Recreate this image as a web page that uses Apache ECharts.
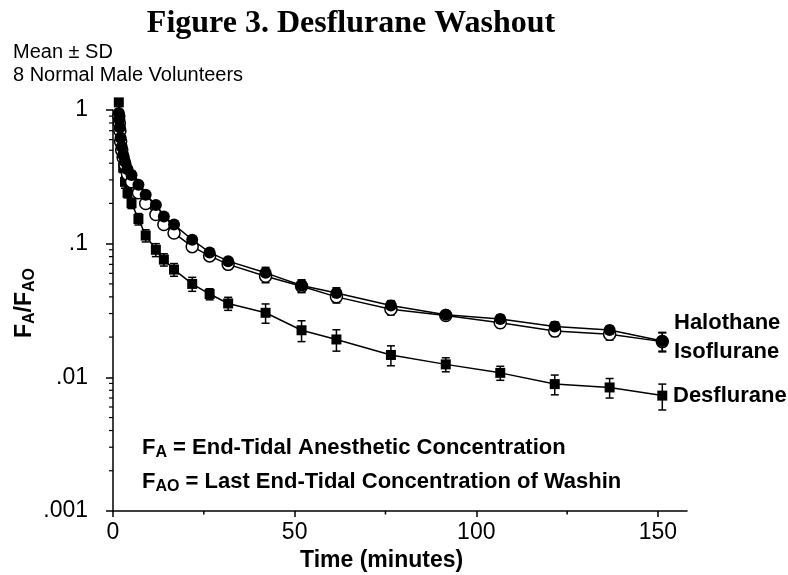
<!DOCTYPE html>
<html>
<head>
<meta charset="utf-8">
<script src="https://cdn.jsdelivr.net/npm/echarts@6/dist/echarts.min.js"></script>
<style>
  html, body { margin: 0; padding: 0; background: #fff; }
  #chart { width: 788px; height: 575px; }
</style>
</head>
<body>
<div id="chart"></div>
<script>
// sample times (minutes)
var times = [1.6, 1.75, 1.9, 2.1, 2.4, 2.8, 3.3, 4.0, 5.1, 7.0, 9.0, 11.8, 14.0, 16.8, 21.8, 26.6, 31.7,
             42.0, 51.9, 61.5, 76.5, 91.6, 106.6, 121.6, 136.7, 151.2];

// FA/FA0 means
var halothane  = [0.95, 0.85, 0.74, 0.62, 0.53, 0.46, 0.41, 0.36, 0.327, 0.276, 0.232, 0.195, 0.160, 0.139, 0.107, 0.086, 0.074,
                  0.0605, 0.0487, 0.0428, 0.0345, 0.0294, 0.0273, 0.0240, 0.0226, 0.0187];
var isoflurane = [0.90, 0.80, 0.70, 0.58, 0.50, 0.44, 0.39, 0.33, 0.290, 0.240, 0.200, 0.165, 0.139, 0.120, 0.095, 0.081, 0.070,
                  0.057, 0.048, 0.040, 0.0323, 0.0290, 0.0256, 0.0222, 0.0210, 0.0185];
var desflurane = [1.14, 0.85, 0.71, 0.58, 0.48, 0.37, 0.29, 0.24, 0.201, 0.153, 0.115, 0.090, 0.076, 0.064, 0.050, 0.042, 0.0357,
                  0.0304, 0.0225, 0.0192, 0.0147, 0.0125, 0.0108, 0.0089, 0.0084, 0.0073];

// standard deviations
var halSD = [0.05, 0.04, 0.04, 0.03, 0.03, 0.025, 0.02, 0.02, 0.02, 0.015, 0.012, 0.01, 0.008, 0.007, 0.006, 0.005, 0.004,
             0.006, 0.005, 0.004, 0.003, 0.0015, 0.002, 0.002, 0.0015, 0.003];
var isoSD = [0.05, 0.04, 0.04, 0.03, 0.03, 0.025, 0.02, 0.02, 0.02, 0.015, 0.012, 0.01, 0.008, 0.007, 0.007, 0.005, 0.005,
             0.006, 0.005, 0.004, 0.003, 0.0015, 0.002, 0.002, 0.002, 0.003];
var desSD = [0.05, 0.05, 0.04, 0.04, 0.03, 0.03, 0.03, 0.02, 0.018, 0.015, 0.012, 0.010, 0.008, 0.007, 0.006, 0.004, 0.004,
             0.005, 0.004, 0.0035, 0.0025, 0.0015, 0.0013, 0.0015, 0.0014, 0.0016];

// tick labels
var yTickLabels = ['.001', '.01', '.1', '1'];
var yMinorTicks = [0.002, 0.003, 0.004, 0.005, 0.006, 0.007, 0.008, 0.009,
                   0.02, 0.03, 0.04, 0.05, 0.06, 0.07, 0.08, 0.09,
                   0.2, 0.3, 0.4, 0.5, 0.6, 0.7, 0.8, 0.9];
var xMinorTicks = [25, 75, 125];

var sans = "'Liberation Sans', Arial, sans-serif";

var pairs = function (vals) {
    return times.map(function (t, i) { return [t, vals[i]]; });
};
var bars = function (vals, sd) {
    return times.map(function (t, i) { return [t, vals[i] - sd[i], vals[i] + sd[i]]; });
};

var errorRender = function (params, api) {
    var top = api.coord([api.value(0), api.value(2)]);
    var bot = api.coord([api.value(0), api.value(1)]);
    var st = { stroke: '#000', lineWidth: 1.5 };
    return {
        type: 'group',
        children: [
            { type: 'line', shape: { x1: top[0], y1: top[1], x2: bot[0], y2: bot[1] }, style: st },
            { type: 'line', shape: { x1: top[0] - 4, y1: top[1], x2: top[0] + 4, y2: top[1] }, style: st },
            { type: 'line', shape: { x1: bot[0] - 4, y1: bot[1], x2: bot[0] + 4, y2: bot[1] }, style: st }
        ]
    };
};

var errorSeries = function (vals, sd) {
    return {
        type: 'custom',
        data: bars(vals, sd),
        encode: { x: 0, y: [1, 2] },
        renderItem: errorRender,
        clip: false,
        z: 1
    };
};

var subRich = function (size, subSize) {
    return {
        m: { fill: '#000', fontFamily: sans, fontWeight: 'bold', fontSize: size, lineHeight: size + 3 },
        s: { fill: '#000', fontFamily: sans, fontWeight: 'bold', fontSize: subSize, lineHeight: subSize, verticalAlign: 'bottom' }
    };
};

var label = function (text, x, y, size, bold) {
    return {
        type: 'text', x: x, y: y,
        style: { text: text, fill: '#000', verticalAlign: 'middle',
                 fontFamily: sans, fontSize: size, fontWeight: bold ? 'bold' : 'normal' }
    };
};

var box = document.getElementById('chart');
var myChart = echarts.init(box);

var option = {
    animation: false,
    backgroundColor: '#fff',
    grid: {
        left: 113,
        top: 110,
        width: 574,
        height: 401,
        containLabel: false,
        outerBoundsMode: 'none'
    },
    xAxis: {
        type: 'value',
        min: 0,
        max: 158,
        interval: 50,
        axisLine: { onZero: false, lineStyle: { color: '#000', width: 1.5 } },
        axisTick: { inside: false, length: 6, lineStyle: { color: '#000', width: 1.5 } },
        axisLabel: {
            showMaxLabel: false,
            margin: 10,
            color: '#000',
            fontFamily: sans,
            fontSize: 23
        },
        splitLine: { show: false }
    },
    yAxis: {
        type: 'log',
        logBase: 10,
        min: 0.001,
        max: 1,
        axisLine: { lineStyle: { color: '#000', width: 1.5 } },
        axisTick: { length: 7, lineStyle: { color: '#000', width: 1.5 } },
        axisLabel: {
            margin: 25,
            color: '#000',
            fontFamily: sans,
            fontSize: 23,
            formatter: function (v) {
                return yTickLabels[Math.round(Math.log10(v)) + 3];
            }
        },
        splitLine: { show: false }
    },
    graphic: [
        {
            type: 'text', x: 351, y: 24,
            style: { text: 'Figure 3. Desflurane Washout', fill: '#000', align: 'center', verticalAlign: 'middle',
                     font: 'bold 32px "Liberation Serif", serif' }
        },
        label('Mean \u00b1 SD', 13, 52, 20, false),
        label('8 Normal Male Volunteers', 13, 75, 20, false),
        {
            type: 'text', x: 25, y: 303, rotation: Math.PI / 2,
            style: {
                text: '{m|F}{s|A}{m|/F}{s|AO}', align: 'center', verticalAlign: 'middle',
                rich: subRich(23, 16)
            }
        },
        label('Time (minutes)', 300, 561, 23, true),
        label('Halothane', 674, 323, 22, true),
        label('Isoflurane', 674, 352, 22, true),
        label('Desflurane', 673, 396, 22, true),
        {
            type: 'text', x: 142, y: 448,
            style: {
                text: '{m|F}{s|A}{m| = End-Tidal Anesthetic Concentration}', verticalAlign: 'middle',
                rich: subRich(22, 16)
            }
        },
        {
            type: 'text', x: 142, y: 482,
            style: {
                text: '{m|F}{s|AO}{m| = Last End-Tidal Concentration of Washin}', verticalAlign: 'middle',
                rich: subRich(22, 16)
            }
        }
    ],
    series: [
        // minor ticks on the log axis
        {
            type: 'custom',
            data: yMinorTicks.map(function (v) { return [0, v]; }),
            encode: { x: 0, y: 1 },
            clip: false,
            silent: true,
            renderItem: function (params, api) {
                var p = api.coord([0, api.value(1)]);
                return { type: 'line', shape: { x1: p[0] - 4, y1: p[1], x2: p[0], y2: p[1] },
                         style: { stroke: '#000', lineWidth: 1.2 } };
            }
        },
        {
            type: 'custom',
            data: xMinorTicks.map(function (t) { return [t, 0.001]; }),
            encode: { x: 0, y: 1 },
            clip: false,
            silent: true,
            renderItem: function (params, api) {
                var p = api.coord([api.value(0), 0.001]);
                return { type: 'line', shape: { x1: p[0], y1: p[1], x2: p[0], y2: p[1] + 3.5 },
                         style: { stroke: '#000', lineWidth: 1.5 } };
            }
        },
        errorSeries(desflurane, desSD),
        errorSeries(isoflurane, isoSD),
        errorSeries(halothane, halSD),
        {
            name: 'Desflurane',
            type: 'line',
            data: pairs(desflurane),
            symbol: 'rect',
            symbolSize: 10,
            clip: false,
            itemStyle: { color: '#000' },
            lineStyle: { color: '#000', width: 1.5 },
            z: 3
        },
        {
            name: 'Isoflurane',
            type: 'line',
            data: pairs(isoflurane),
            symbol: 'circle',
            symbolSize: 12,
            clip: false,
            itemStyle: { color: '#fff', borderColor: '#000', borderWidth: 1.5 },
            lineStyle: { color: '#000', width: 1.5 },
            z: 3
        },
        {
            name: 'Halothane',
            type: 'line',
            data: pairs(halothane),
            symbol: 'circle',
            symbolSize: 12,
            clip: false,
            itemStyle: { color: '#000' },
            lineStyle: { color: '#000', width: 1.5 },
            z: 4
        }
    ]
};

myChart.setOption(option);
</script>
</body>
</html>
